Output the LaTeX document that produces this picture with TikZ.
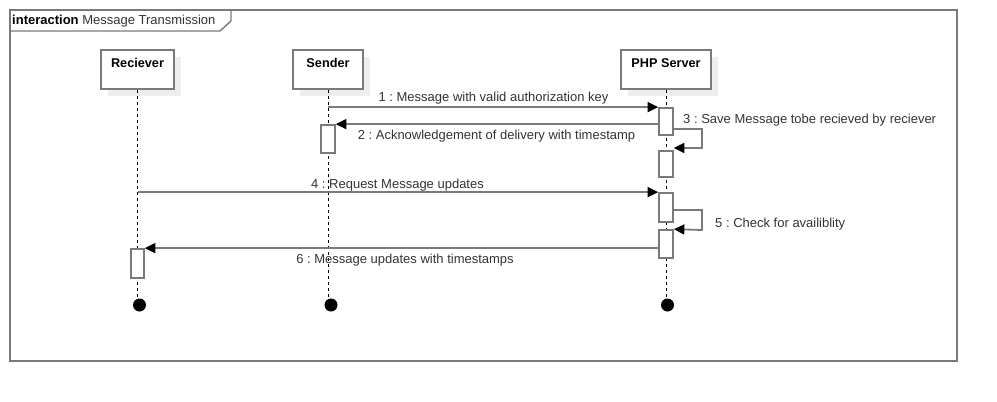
\documentclass[tikz,border=0pt]{standalone}
\usepackage{fontspec}
\setmainfont{Liberation Sans}
\usetikzlibrary{arrows.meta}
\definecolor{lgray}{HTML}{7A7A7A}
\definecolor{shad}{HTML}{EEEEEE}
\definecolor{txt}{HTML}{333333}
\frenchspacing
\begin{document}
\begin{tikzpicture}[x=1pt,y=-1pt,
  frame/.style={draw=lgray, line width=1.4pt},
  headbox/.style={draw=lgray, line width=1.8pt, fill=white, inner sep=0pt, minimum height=39pt},
  headtxt/.style={font=\fontsize{12.7}{14}\selectfont\bfseries, text=black, inner sep=0pt},
  act/.style={draw=lgray, line width=1.7pt, fill=white, inner sep=0pt, minimum width=14pt},
  life/.style={draw=black, line width=1pt, dash pattern=on 3pt off 3pt},
  term/.style={circle, fill=black, inner sep=0pt, minimum size=13pt},
  msg/.style={draw=lgray, line width=1.8pt, -{Triangle[length=10.5pt,width=10pt,color=black]}},
  lbl/.style={font=\fontsize{13}{15}\selectfont, text=txt, inner sep=0pt}
]
\useasboundingbox (0,0) rectangle (997,402);
% frame
\draw[frame] (10,10) rectangle (957,361);
\draw[frame] (10,31) -- (220,31) -- (231,21) -- (231,10);
\node[anchor=west, inner sep=0pt, font=\fontsize{13}{15}\selectfont, text=txt] (title) at (12,21) {\textbf{\color{black}interaction} Message Transmission};
% shadows
\fill[shad] (108,57) rectangle (181,96);
\fill[shad] (300,57) rectangle (370,96);
\fill[shad] (628,57) rectangle (718,96);
% heads
\node[headbox, minimum width=73pt] (rcv) at (137.5,69.5) {};
\node[headbox, minimum width=70pt] (snd) at (328,69.5) {};
\node[headbox, minimum width=90pt] (php) at (666,69.5) {};
\node[headtxt] (rcvt) at (137.5,63) {Reciever};
\node[headtxt] (sndt) at (328,63) {Sender};
\node[headtxt] (phpt) at (666,63) {PHP Server};
% terminators
\node[term] (rend) at (139.5,305) {};
\node[term] (send) at (331,305) {};
\node[term] (pend) at (667.5,305) {};
% lifelines
\draw[life] (rcv.south) -- (rcv.south |- rend.north);
\draw[life] (snd.south) -- (snd.south |- send.north);
\draw[life] (php.south) -- (php.south |- pend.north);
% activations
\node[act, minimum height=27pt] (a1) at (666,121.5) {};
\node[act, minimum height=26pt] (a2) at (666,164) {};
\node[act, minimum height=29pt] (a3) at (666,207.5) {};
\node[act, minimum height=28pt] (a4) at (666,244) {};
\node[act, minimum height=28pt] (sa) at (328,139) {};
\node[act, minimum height=29pt, minimum width=13pt] (ra) at (137.5,263.5) {};
% messages
\draw[msg] (snd.south |- a1.north) -- (a1.north west);
\draw[msg] (a1.west |- sa.north) -- (sa.north east);
\draw[msg] (a1.east |- 0,129) -- (702,129) -- (702,148) -- (a2.east |- 0,148);
\draw[msg] (rcv.south |- a3.north) -- (a3.north west);
\draw[msg] (a3.east |- 0,210) -- (702,210) -- (702,230) -- (a4.north east);
\draw[msg] (a4.west |- ra.north) -- (ra.north east);
% labels
\node[lbl] (l1) at (493.5,98.5) {1 : Message with valid authorization key};
\node[lbl] (l2) at (496.5,136) {2 : Acknowledgement of delivery with timestamp};
\node[lbl, anchor=west] (l3) at (683,120) {3 : Save Message tobe recieved by reciever};
\node[lbl] (l4) at (397.5,185) {4 : Request Message updates};
\node[lbl, anchor=west] (l5) at (715,224) {5 : Check for availiblity};
\node[lbl] (l6) at (405,260) {6 : Message updates with timestamps};
\end{tikzpicture}
\end{document}
